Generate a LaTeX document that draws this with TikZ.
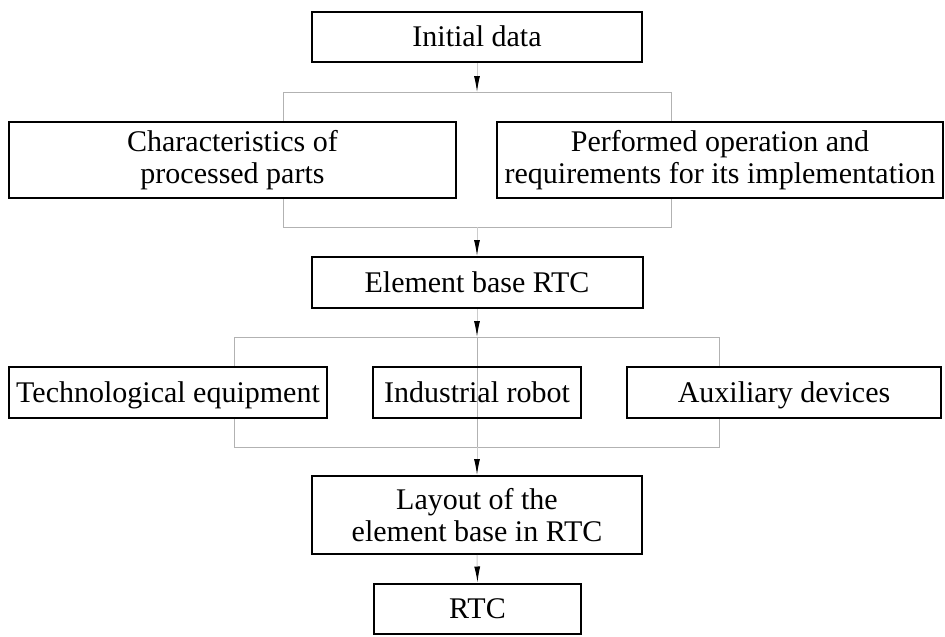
\documentclass[tikz,border=0pt]{standalone}
\usepackage{fontspec}
\setmainfont{Liberation Serif}
\usetikzlibrary{arrows.meta,positioning}

\begin{document}
\begin{tikzpicture}[x=1pt,y=-1pt,
  box/.style={draw=black, line width=2pt, fill=white, inner sep=0pt,
    align=center, font=\fontsize{30}{32}\selectfont},
  oneline/.style={box, text height=22pt, text depth=3pt},
  openbox/.style={oneline, fill=none},
  link/.style={draw=gray!60, line width=1pt},
  feed/.style={draw=gray!40, line width=1pt,
    -{Latex[length=16pt,width=6pt,color=black]}}]

\useasboundingbox (0,0) rectangle (945,637);

% junction points of the connector bus lines
\coordinate (j1) at (477,92);
\coordinate (j1l) at (283,92);
\coordinate (j1r) at (671,92);
\coordinate (j2) at (477,227);
\coordinate (j2l) at (283,227);
\coordinate (j2r) at (671,227);
\coordinate (j3) at (477,337);
\coordinate (j3l) at (234,337);
\coordinate (j3r) at (719,337);
\coordinate (j4) at (477,447);
\coordinate (j4l) at (234,447);
\coordinate (j4r) at (719,447);

% bus lines, drawn first so that the boxes cover them
\draw[link] (j1l) -- (j1r);
\draw[link] (j1l) -- (j2l) -- (j2r) -- (j1r);
\draw[link] (j3l) -- (j3r);
\draw[link] (j3l) -- (j4l) -- (j4r) -- (j3r);
\draw[link] (j3) -- (j4);

% boxes
\node[oneline, minimum width=330pt, minimum height=50pt] (init) at (477,37) {Initial data};
\node[box, minimum width=447pt, minimum height=76pt] (chars) at (232.5,160)
  {Characteristics of\\processed parts};
\node[box, minimum width=446pt, minimum height=76pt] (perf) at (720,160)
  {Performed operation and\\requirements for its implementation};
\node[oneline, minimum width=331pt, minimum height=51pt] (elem) at (477,282.5) {Element base RTC};
\node[oneline, minimum width=318pt, minimum height=51pt] (tech) at (168,392.5) {Technological equipment};
\node[openbox, minimum width=208pt, minimum height=51pt] (robot) at (477,392.5) {Industrial robot};
\node[oneline, minimum width=314pt, minimum height=51pt] (aux) at (784,392.5) {Auxiliary devices};
\node[box, minimum width=330pt, minimum height=78pt] (layout) at (477,515)
  {Layout of the\\element base in RTC};
\node[oneline, minimum width=207pt, minimum height=50pt] (rtc) at (477.5,608.5) {RTC};

% arrows into the bus lines and boxes
\draw[feed] (init.south) -- (j1);
\draw[feed] (j2) -- (elem.north);
\draw[feed] (elem.south) -- (j3);
\draw[feed] (j4) -- (layout.north);
\draw[feed] (layout.south) -- (rtc.north);

\end{tikzpicture}
\end{document}
